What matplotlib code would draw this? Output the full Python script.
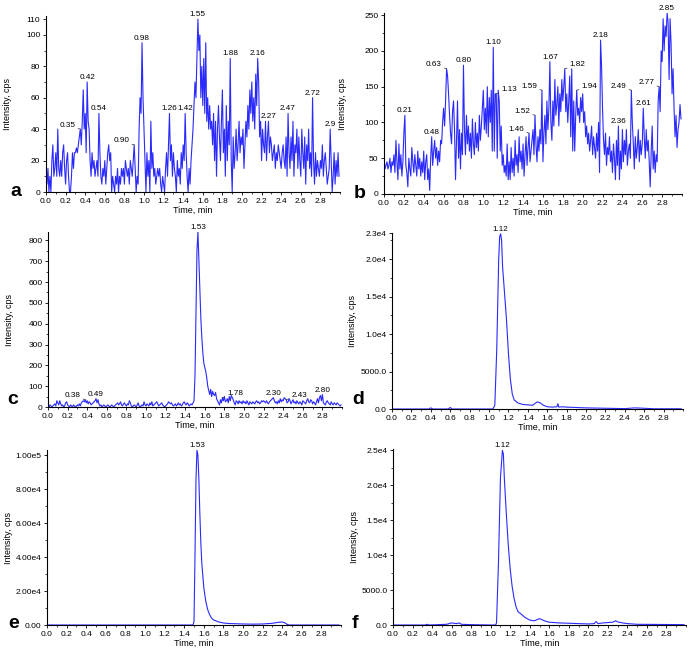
import numpy as np
import matplotlib.pyplot as plt
from matplotlib.ticker import MultipleLocator

plt.rcParams['font.family'] = ['Liberation Sans', 'DejaVu Sans']

# sampling grid of the noisy traces a, b, c (0.01 min per scan)
time_abc = np.round(np.arange(300) * 0.01, 2)

intensity_a = [
    20, 5, 15, 0, 10, 0, 20, 30, 10, 15,
    25, 10, 40, 15, 10, 20, 10, 25, 30, 15,
    5, 20, 25, 10, 0, 0, 10, 25, 15, 25,
    25, 28, 25, 30, 35, 40, 30, 45, 65, 40,
    50, 25, 70, 45, 40, 20, 10, 25, 15, 20,
    10, 15, 20, 10, 50, 25, 10, 5, 15, 10,
    20, 5, 15, 25, 30, 20, 25, 0, 10, 5,
    0, 10, 5, 15, 0, 10, 5, 15, 10, 15,
    5, 20, 15, 10, 15, 5, 20, 15, 10, 20,
    30, 15, 0, 10, 5, 40, 60, 50, 95, 60,
    40, 20, 0, 25, 10, 20, 0, 45, 15, 25,
    10, 15, 5, 10, 15, 10, 15, 5, 0, 10,
    5, 0, 15, 25, 10, 30, 50, 20, 30, 10,
    25, 15, 10, 0, 20, 10, 15, 5, 25, 15,
    30, 20, 50, 25, 10, 0, 15, 5, 20, 30,
    40, 55, 70, 60, 85, 110, 90, 100, 60, 80,
    55, 85, 50, 95, 45, 60, 40, 55, 40, 45,
    30, 50, 20, 45, 10, 40, 55, 35, 20, 45,
    65, 25, 40, 10, 55, 20, 45, 30, 85, 20,
    0, 35, 15, 25, 40, 20, 30, 45, 25, 35,
    30, 40, 15, 30, 45, 35, 55, 40, 65, 50,
    70, 45, 60, 40, 75, 55, 85, 70, 35, 45,
    20, 40, 30, 25, 45, 20, 35, 45, 25, 35,
    30, 20, 25, 30, 15, 25, 20, 30, 25, 20,
    15, 25, 30, 20, 15, 35, 10, 50, 25, 15,
    35, 20, 45, 10, 30, 25, 40, 15, 35, 20,
    10, 40, 25, 15, 35, 5, 30, 20, 40, 15,
    25, 10, 60, 20, 5, 25, 10, 20, 15, 10,
    20, 15, 30, 10, 20, 25, 15, 5, 10, 15,
    40, 20, 0, 10, 25, 5, 20, 10, 25, 10,
]

intensity_b = [
    50, 35, 40, 45, 35, 40, 50, 30, 45, 40,
    55, 30, 75, 45, 20, 70, 35, 55, 25, 45,
    85, 110, 40, 30, 10, 50, 35, 25, 65, 45,
    30, 55, 40, 25, 60, 35, 50, 25, 45, 30,
    60, 20, 45, 55, 20, 35, 5, 50, 80, 40,
    60, 75, 50, 65, 40, 60, 45, 75, 70, 100,
    120, 95, 130, 175, 165, 140, 110, 85, 70, 115,
    130, 90, 20, 75, 130, 50, 90, 35, 85, 55,
    180, 90, 55, 110, 70, 95, 60, 85, 50, 105,
    70, 55, 100, 65, 85, 60, 110, 75, 95, 120,
    145, 90, 120, 85, 150, 80, 135, 100, 145, 60,
    205, 60, 140, 140, 50, 145, 130, 60, 95, 40,
    55, 30, 40, 25, 70, 20, 45, 20, 65, 30,
    50, 25, 75, 40, 55, 30, 80, 45, 60, 35,
    70, 25, 55, 80, 40, 65, 85, 45, 60, 75,
    90, 55, 110, 70, 45, 80, 60, 90, 70, 145,
    45, 85, 110, 70, 130, 90, 120, 185, 100, 75,
    130, 95, 160, 110, 125, 150, 95, 140, 115, 160,
    130, 150, 175, 115, 140, 100, 130, 165, 80, 175,
    60, 130, 60, 110, 145, 110, 120, 100, 135, 115,
    140, 100, 115, 80, 95, 70, 85, 60, 75, 95,
    55, 80, 65, 50, 85, 60, 100, 30, 215, 180,
    120, 75, 55, 85, 40, 65, 55, 80, 45, 60,
    30, 70, 50, 20, 75, 40, 95, 20, 60, 35,
    90, 45, 75, 55, 90, 40, 60, 70, 50, 145,
    100, 70, 35, 80, 50, 65, 90, 45, 75, 55,
    70, 120, 80, 50, 90, 60, 75, 45, 10, 60,
    95, 35, 60, 30, 55, 45, 130, 150, 115, 200,
    185, 245, 200, 235, 220, 253, 240, 160, 245, 210,
    140, 175, 120, 80, 110, 65, 90, 100, 125, 105,
]

intensity_c = [
    5, 0, 10, 5, 0, 5, 10, 15, 5, 30,
    20, 10, 30, 15, 5, 10, 0, 5, 20, 25,
    10, 5, 0, 10, 5, 0, 10, 5, 0, 5,
    10, 5, 15, 5, 20, 25, 30, 25, 35, 20,
    30, 15, 25, 20, 10, 15, 20, 25, 30, 40,
    20, 35, 15, 5, 10, 0, 5, 10, 5, 0,
    5, 10, 5, 0, 5, 10, 5, 0, 5, 10,
    15, 20, 10, 15, 25, 10, 5, 15, 20, 10,
    5, 15, 10, 30, 20, 5, 0, 5, 10, 5,
    0, 10, 20, 5, 0, 5, 10, 5, 25, 10,
    5, 15, 10, 5, 20, 10, 25, 5, 10, 15,
    20, 25, 15, 5, 10, 15, 20, 10, 5, 0,
    5, 10, 15, 25, 20, 15, 20, 10, 5, 10,
    15, 5, 10, 20, 10, 15, 5, 10, 20, 25,
    15, 10, 20, 15, 5, 10, 15, 10, 20, 30,
    150, 450, 750, 840, 700, 560, 420, 330, 260, 210,
    190, 170, 140, 100, 80, 60, 85, 50, 75, 60,
    55, 70, 40, 30, 20, 10, 35, 20, 45, 30,
    50, 25, 30, 40, 20, 50, 30, 55, 45, 35,
    20, 10, 30, 25, 15, 30, 20, 25, 15, 30,
    20, 25, 15, 30, 20, 10, 25, 20, 15, 25,
    20, 15, 25, 30, 20, 25, 15, 20, 30, 25,
    30, 25, 20, 30, 20, 15, 25, 30, 35, 40,
    45, 30, 20, 25, 15, 30, 20, 40, 25, 35,
    30, 45, 40, 35, 20, 25, 40, 30, 15, 25,
    35, 20, 25, 15, 30, 20, 15, 25, 20, 10,
    30, 25, 20, 15, 30, 40, 25, 20, 35, 30,
    15, 25, 20, 10, 25, 40, 20, 45, 55, 30,
    60, 20, 15, 10, 25, 30, 20, 15, 10, 25,
    15, 10, 20, 15, 10, 20, 15, 10, 5, 10,
]

time_d = [0.0, 0.38, 0.40, 0.42, 0.58, 0.60, 0.62, 1.0, 1.04, 1.06, 1.08, 1.10,
          1.11, 1.12, 1.13, 1.14, 1.16, 1.18, 1.20, 1.22, 1.24, 1.26, 1.30,
          1.35, 1.40, 1.45, 1.48, 1.50, 1.53, 1.56, 1.60, 1.65, 1.70, 1.71,
          1.72, 1.75, 1.80, 2.0, 2.2, 2.4, 2.5, 2.6, 2.7, 2.98]
intensity_d = [0, 0, 150, 0, 0, 200, 0, 0, 0, 500, 8000, 20000,
               23000, 23400, 22500, 19000, 15500, 12000, 7500, 4000, 2000, 1200, 800,
               600, 550, 500, 800, 950, 800, 500, 300, 250, 300, 700,
               250, 300, 250, 150, 100, 50, 150, 100, 30, 30]

time_e = [0.0, 1.49, 1.50, 1.51, 1.52, 1.53, 1.54, 1.55, 1.56, 1.57, 1.58, 1.60,
          1.62, 1.64, 1.66, 1.68, 1.70, 1.75, 1.80, 1.85, 1.90, 2.0, 2.1, 2.2,
          2.3, 2.35, 2.40, 2.43, 2.45, 2.47, 2.98]
intensity_e = [0, 0, 2000, 40000, 85000, 103000, 100000, 85000, 65000, 48000, 36000, 22000,
               14000, 9000, 6000, 4000, 3000, 1800, 1200, 900, 800, 600, 500, 600,
               1000, 1500, 1800, 1200, 400, 0, 0]

time_f = [0.0, 0.33, 0.35, 0.37, 0.55, 0.60, 0.65, 0.68, 0.70, 0.80, 1.0, 1.05,
          1.06, 1.08, 1.10, 1.12, 1.13, 1.14, 1.16, 1.18, 1.20, 1.22, 1.24,
          1.26, 1.28, 1.30, 1.35, 1.40, 1.45, 1.48, 1.50, 1.52, 1.55, 1.60,
          1.70, 1.80, 1.90, 2.0, 2.06, 2.08, 2.10, 2.15, 2.2, 2.25, 2.28,
          2.30, 2.35, 2.4, 2.5, 2.98]
intensity_f = [0, 0, 100, 0, 100, 300, 200, 300, 100, 50, 0, 0,
               300, 9000, 21000, 25000, 24500, 21000, 16000, 11500, 8000, 5500, 3800,
               2600, 1900, 1700, 1100, 700, 600, 800, 900, 800, 600, 400,
               300, 250, 200, 150, 200, 500, 200, 300, 350, 400, 600,
               450, 300, 200, 100, 50]

# peak labels: (time, text, placement) c = centred, l = left with leader, r = right with leader
peaks_a = [(0.35, '0.35', 'l'), (0.42, '0.42', 'c'), (0.54, '0.54', 'c'), (0.90, '0.90', 'l'),
           (0.98, '0.98', 'c'), (1.26, '1.26', 'c'), (1.42, '1.42', 'c'), (1.55, '1.55', 'c'),
           (1.88, '1.88', 'c'), (2.16, '2.16', 'c'), (2.27, '2.27', 'c'), (2.47, '2.47', 'c'),
           (2.72, '2.72', 'c'), (2.90, '2.9', 'c')]
peaks_b = [(0.21, '0.21', 'c'), (0.48, '0.48', 'c'), (0.63, '0.63', 'l'), (0.80, '0.80', 'c'),
           (1.10, '1.10', 'c'), (1.13, '1.13', 'r'), (1.46, '1.46', 'l'), (1.52, '1.52', 'l'),
           (1.59, '1.59', 'l'), (1.67, '1.67', 'c'), (1.82, '1.82', 'r'), (1.94, '1.94', 'r'),
           (2.18, '2.18', 'c'), (2.36, '2.36', 'c'), (2.49, '2.49', 'l'), (2.61, '2.61', 'c'),
           (2.77, '2.77', 'l'), (2.85, '2.85', 'c')]
peaks_c = [(0.38, '0.38', 'l'), (0.49, '0.49', 'c'), (1.53, '1.53', 'c'), (1.78, '1.78', 'r'),
           (2.30, '2.30', 'c'), (2.43, '2.43', 'r'), (2.80, '2.80', 'c')]
peaks_d = [(1.12, '1.12', 'c')]
peaks_e = [(1.53, '1.53', 'c')]
peaks_f = [(1.12, '1.12', 'c')]

x_ticks = [0.0, 0.2, 0.4, 0.6, 0.8, 1.0, 1.2, 1.4, 1.6, 1.8, 2.0, 2.2, 2.4, 2.6, 2.8]

yticks_a = [0, 20, 40, 60, 80, 100, 110]
yticks_b = [0, 50, 100, 150, 200, 250]
yticks_c = [0, 100, 200, 300, 400, 500, 600, 700, 800]
yticks_d = [0, 5000, 10000, 15000, 20000, 23500]
ylabels_d = ['0.0', '5000.0', '1.0e4', '1.5e4', '2.0e4', '2.3e4']
yticks_e = [0, 20000, 40000, 60000, 80000, 100000]
ylabels_e = ['0.00', '2.00e4', '4.00e4', '6.00e4', '8.00e4', '1.00e5']
yticks_f = [0, 5000, 10000, 15000, 20000, 25000]
ylabels_f = ['0.0', '5000.0', '1.0e4', '1.5e4', '2.0e4', '2.5e4']

W, H = 698, 651
LINE = '#2a2aff'


def px_axes(fig, left, top, right, bottom):
    return fig.add_axes([left / W, 1 - bottom / H, (right - left) / W, (bottom - top) / H])


def label_peaks(ax, t, y, peaks):
    t = np.asarray(t)
    for pt, txt, side in peaks:
        i = int(np.argmin(np.abs(t - pt)))
        v = y[i]
        if side == 'c':
            ax.annotate(txt, (t[i], v), xytext=(0, 1), textcoords='offset pixels',
                        ha='center', va='bottom', fontsize=5.9, annotation_clip=False)
        else:
            dx = -5 if side == 'l' else 5
            ax.annotate(txt, (t[i], v), xytext=(dx, 4), textcoords='offset pixels',
                        ha='right' if side == 'l' else 'left', va='center', fontsize=5.9,
                        arrowprops=dict(arrowstyle='-', lw=0.5, color='0.2',
                                        shrinkA=0, shrinkB=0))


def draw_panel(ax, t, y, peaks, ylim, yticks, ylabels, yminor, ylab_x):
    ax.plot(t, y, color=LINE, lw=0.8)
    ax.set_xlim(0, 3.0)
    ax.set_ylim(*ylim)
    ax.set_xticks(x_ticks)
    ax.set_xticklabels([f'{v:.1f}' for v in x_ticks])
    ax.xaxis.set_minor_locator(MultipleLocator(0.1))
    ax.set_yticks(yticks)
    ax.set_yticklabels(ylabels)
    ax.yaxis.set_minor_locator(MultipleLocator(yminor))
    for s in ['top', 'right']:
        ax.spines[s].set_visible(False)
    ax.spines['left'].set_linewidth(0.8)
    ax.spines['bottom'].set_linewidth(0.8)
    ax.tick_params(which='major', length=2.5, width=0.6, labelsize=6, pad=1.5)
    ax.tick_params(which='minor', length=1.5, width=0.5)
    ax.set_xlabel('Time, min', fontsize=6.5, labelpad=1)
    ax.set_ylabel('Intensity, cps', fontsize=6.5)
    ax.yaxis.set_label_coords(ylab_x, 0.5)
    label_peaks(ax, t, y, peaks)


fig = plt.figure(figsize=(W / 100, H / 100), dpi=100)

ax_a = px_axes(fig, 46, 16, 340, 192)
draw_panel(ax_a, time_abc, intensity_a, peaks_a, (0, 112), yticks_a,
           [str(v) for v in yticks_a], 10, -0.116)
ax_b = px_axes(fig, 384, 13, 682, 194)
draw_panel(ax_b, time_abc, intensity_b, peaks_b, (0, 253), yticks_b,
           [str(v) for v in yticks_b], 25, -0.124)
ax_c = px_axes(fig, 48, 232, 342, 407)
draw_panel(ax_c, time_abc, intensity_c, peaks_c, (0, 840), yticks_c,
           [str(v) for v in yticks_c], 50, -0.116)
ax_d = px_axes(fig, 392, 233, 683, 409)
draw_panel(ax_d, time_d, intensity_d, peaks_d, (0, 23500), yticks_d,
           ylabels_d, 2500, -0.12)
ax_e = px_axes(fig, 47, 450, 341, 625)
draw_panel(ax_e, time_e, intensity_e, peaks_e, (0, 103000), yticks_e,
           ylabels_e, 10000, -0.115)
ax_f = px_axes(fig, 393, 449, 686, 625)
draw_panel(ax_f, time_f, intensity_f, peaks_f, (0, 25200), yticks_f,
           ylabels_f, 2500, -0.116)

for letter, x, y in [('a', 16, 196), ('b', 360, 198), ('c', 13, 404),
                     ('d', 358, 404), ('e', 14, 628), ('f', 355, 628)]:
    fig.text(x / W, 1 - y / H, letter, fontsize=14, fontweight='bold',
             ha='center', va='baseline')

fig.savefig('out.png', dpi=100)
